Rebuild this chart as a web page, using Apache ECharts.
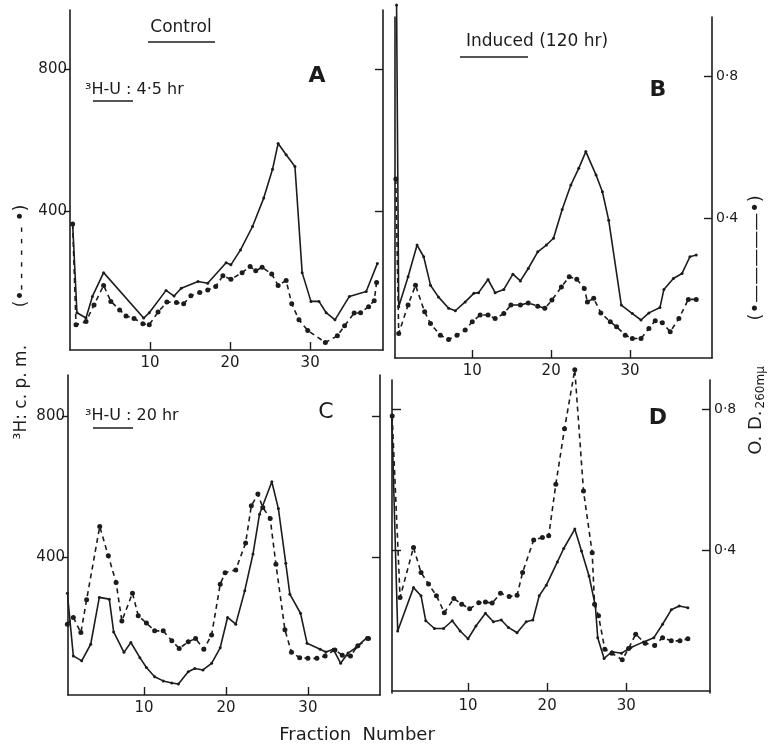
<!DOCTYPE html>
<html>
<head>
<meta charset="utf-8">
<script src="https://cdn.jsdelivr.net/npm/echarts@6/dist/echarts.min.js"></script>
<style>
  html, body { margin: 0; padding: 0; background: #fff; }
  #chart { width: 768px; height: 744px; }
</style>
</head>
<body>
<div id="chart"></div>
<script>
// fraction number / value pairs
// solid line = O.D. 260 (right axis), dashed line = 3H c.p.m. (left axis)
const aFracOD = [0.33, 0.87, 2.0, 2.8, 4.2, 9.2, 9.9, 12.0, 13.0, 13.9, 16.0, 17.2, 19.5, 20.1, 21.3, 22.8, 24.2, 25.3, 26.0, 27.0, 28.1, 29.0, 30.1, 31.1, 32.0, 33.1, 34.9, 37.0, 38.4];
const aOD = [0.363, 0.113, 0.098, 0.159, 0.226, 0.098, 0.113, 0.176, 0.160, 0.182, 0.201, 0.196, 0.254, 0.248, 0.290, 0.356, 0.436, 0.517, 0.590, 0.558, 0.525, 0.226, 0.145, 0.145, 0.113, 0.093, 0.159, 0.173, 0.252];
const aFracCpm = [0.33, 0.75, 2.0, 3.0, 4.2, 5.1, 6.2, 7.0, 8.0, 9.1, 9.9, 11.0, 12.1, 13.3, 14.2, 15.1, 16.2, 17.2, 18.2, 19.1, 20.1, 21.5, 22.5, 23.2, 24.0, 25.2, 26.0, 27.0, 27.7, 28.6, 29.7, 31.9, 33.4, 34.3, 35.5, 36.3, 37.3, 38.0, 38.3];
const aCpm = [363, 79, 88, 135, 190, 145, 121, 104, 97, 82, 79, 115, 143, 142, 138, 161, 170, 177, 187, 217, 207, 226, 243, 231, 241, 222, 190, 204, 138, 93, 63, 29, 48, 76, 112, 113, 130, 147, 198];

const bFracOD = [0.4, 0.67, 1.86, 3.0, 3.84, 4.7, 5.7, 7.0, 7.85, 9.1, 10.2, 10.8, 12.0, 12.9, 14.0, 15.15, 16.1, 17.1, 18.3, 19.4, 20.3, 21.4, 22.5, 23.5, 24.4, 25.7, 26.5, 27.3, 28.9, 30.3, 31.4, 32.4, 33.8, 34.3, 35.5, 36.6, 37.6, 38.4];
const bOD = [1.0, 0.150, 0.235, 0.324, 0.291, 0.211, 0.178, 0.146, 0.139, 0.164, 0.188, 0.190, 0.227, 0.190, 0.199, 0.242, 0.223, 0.258, 0.305, 0.324, 0.343, 0.424, 0.493, 0.540, 0.587, 0.521, 0.474, 0.394, 0.155, 0.131, 0.113, 0.133, 0.148, 0.199, 0.230, 0.244, 0.291, 0.296];
const bFracCpm = [0.3, 0.67, 1.86, 2.8, 3.96, 4.7, 5.95, 7.0, 8.06, 9.1, 10.0, 11.0, 12.0, 12.9, 14.0, 14.9, 16.1, 17.1, 18.3, 19.2, 20.1, 21.3, 22.3, 23.25, 24.2, 24.6, 25.4, 26.3, 27.5, 28.3, 29.4, 30.3, 31.4, 32.4, 33.2, 34.1, 35.1, 36.2, 37.4, 38.4];
const bCpm = [510, 75, 155, 211, 136, 103, 70, 58, 70, 85, 108, 127, 127, 117, 131, 155, 155, 161, 152, 146, 169, 206, 235, 228, 202, 164, 174, 133, 108, 94, 70, 61, 61, 89, 111, 105, 80, 117, 171, 171];

const cFracOD = [0.65, 1.38, 2.4, 3.5, 4.55, 5.77, 6.3, 7.56, 8.4, 9.5, 10.3, 11.3, 12.35, 13.4, 14.2, 15.4, 16.2, 17.2, 18.25, 19.3, 20.2, 21.2, 22.3, 23.3, 24.1, 25.6, 26.4, 27.3, 27.8, 29.1, 29.9, 31.5, 32.2, 33.1, 34.0, 34.9, 35.9, 37.2];
const cOD = [0.297, 0.119, 0.105, 0.152, 0.285, 0.280, 0.187, 0.129, 0.157, 0.114, 0.086, 0.060, 0.048, 0.042, 0.039, 0.074, 0.083, 0.079, 0.098, 0.142, 0.228, 0.209, 0.304, 0.408, 0.521, 0.613, 0.537, 0.382, 0.294, 0.240, 0.155, 0.138, 0.130, 0.138, 0.098, 0.127, 0.143, 0.171];
const cFracCpm = [0.65, 1.38, 2.3, 3.0, 4.6, 5.65, 6.6, 7.3, 8.6, 9.3, 10.3, 11.3, 12.35, 13.4, 14.3, 15.4, 16.3, 17.3, 18.25, 19.3, 19.9, 21.2, 22.4, 23.1, 23.9, 24.5, 25.4, 26.1, 27.2, 28.0, 29.0, 30.0, 31.1, 32.1, 33.3, 34.2, 35.2, 36.1, 37.4];
const cCpm = [209, 228, 185, 278, 486, 403, 327, 218, 297, 233, 212, 190, 190, 162, 140, 159, 168, 138, 178, 322, 355, 363, 439, 545, 578, 540, 509, 379, 193, 129, 114, 112, 112, 119, 136, 121, 119, 148, 168];

const dFracOD = [0.35, 1.1, 3.1, 4.05, 4.65, 5.75, 6.9, 8.0, 9.0, 10.0, 11.0, 12.2, 13.2, 14.2, 15.1, 16.2, 17.35, 18.2, 19.0, 19.9, 21.3, 22.1, 23.5, 24.35, 25.3, 26.1, 26.4, 27.2, 28.2, 29.4, 30.6, 32.2, 33.5, 34.6, 35.7, 36.7, 37.8];
const dOD = [0.78, 0.170, 0.293, 0.270, 0.199, 0.177, 0.177, 0.199, 0.170, 0.148, 0.184, 0.220, 0.196, 0.201, 0.180, 0.165, 0.196, 0.201, 0.270, 0.300, 0.366, 0.404, 0.459, 0.397, 0.326, 0.241, 0.151, 0.092, 0.111, 0.107, 0.123, 0.139, 0.151, 0.189, 0.230, 0.241, 0.236];
const dFracCpm = [0.4, 1.4, 3.1, 4.05, 5.0, 6.0, 7.0, 8.2, 9.2, 10.2, 11.35, 12.2, 13.05, 14.1, 15.2, 16.2, 16.9, 18.3, 19.4, 20.2, 21.1, 22.2, 23.5, 24.6, 25.7, 26.0, 26.5, 27.3, 28.2, 29.5, 30.3, 31.2, 32.4, 33.6, 34.6, 35.7, 36.8, 37.8];
const dCpm = [780, 265, 407, 336, 303, 270, 222, 262, 246, 233, 250, 252, 249, 277, 268, 271, 336, 428, 435, 440, 586, 744, 911, 567, 392, 246, 213, 118, 107, 88, 120, 161, 135, 129, 151, 142, 142, 148];

const fracTicks = [10, 20, 30];
const cpmTicks = [400, 800];
const odTicks = [0.4, 0.8];

const ink = "#1c1c1c";
const zip = (xs, ys) => xs.map((x, i) => [x, ys[i]]);

const grids = [
  { left: 70, right: 385, top: 10, bottom: 394 },  // A
  { left: 395, right: 56, top: 17, bottom: 386 },  // B
  { left: 68, right: 388, top: 375, bottom: 49 },  // C
  { left: 392, right: 58, top: 380, bottom: 51 },  // D
];
const xRange = [[0, 39.1], [0.2, 40.4], [0.73, 38.8], [0.38, 40.6]];
const yRange = [[8, 966], [6, 966], [8, 916], [-6, 882]];

function xAxisFor(i) {
  return {
    type: "value", gridIndex: i, min: xRange[i][0], max: xRange[i][1],
    splitLine: { show: false },
    axisLine: { lineStyle: { color: ink, width: 1.6 } },
    axisTick: { customValues: fracTicks, inside: true, length: 8, lineStyle: { color: ink, width: 1.4 } },
    axisLabel: { customValues: fracTicks, color: ink, fontSize: 15, margin: 6, fontFamily: "DejaVu Sans" },
  };
}

// kind: "label" = labelled with outward tick, "inner" = inner ticks only, "none" = bare line
function cpmAxis(i, kind) {
  return {
    type: "value", gridIndex: i, position: "left", min: yRange[i][0], max: yRange[i][1],
    splitLine: { show: false },
    axisLine: { show: true, onZero: false, lineStyle: { color: ink, width: 1.6 } },
    axisTick: { show: kind !== "none", customValues: cpmTicks, inside: kind === "inner", length: kind === "inner" ? 9 : 6, lineStyle: { color: ink, width: 1.4 } },
    axisLabel: { show: kind === "label", customValues: cpmTicks, color: ink, fontSize: 15, margin: 3, fontFamily: "DejaVu Sans" },
  };
}
function odAxis(i, kind) {
  return {
    type: "value", gridIndex: i, position: "right", min: yRange[i][0] / 1000, max: yRange[i][1] / 1000,
    splitLine: { show: false },
    axisLine: { show: true, onZero: false, lineStyle: { color: ink, width: 1.6 } },
    axisTick: { customValues: odTicks, inside: true, length: 8, lineStyle: { color: ink, width: 1.4 } },
    axisLabel: {
      show: kind === "label", customValues: odTicks, color: ink, fontSize: 14, margin: 4, fontFamily: "DejaVu Sans",
      formatter: (v) => String(v).replace(".", "·"),
    },
  };
}

const panels = [
  [aFracOD, aOD, aFracCpm, aCpm],
  [bFracOD, bOD, bFracCpm, bCpm],
  [cFracOD, cOD, cFracCpm, cCpm],
  [dFracOD, dOD, dFracCpm, dCpm],
];
const series = [];
panels.forEach((p, i) => {
  series.push({
    type: "line", xAxisIndex: i, yAxisIndex: i * 2 + 1, data: zip(p[0], p[1]), clip: false,
    symbol: "circle", symbolSize: 3, itemStyle: { color: ink },
    lineStyle: { color: ink, width: 1.6 }, animation: false,
  });
  series.push({
    type: "line", xAxisIndex: i, yAxisIndex: i * 2, data: zip(p[2], p[3]), clip: false,
    symbol: "circle", symbolSize: 5, itemStyle: { color: ink },
    lineStyle: { color: ink, width: 1.6, type: [5, 4] }, animation: false,
  });
});

const txt = (x, y, text, size, extra) => ({
  type: "text", x, y,
  style: Object.assign({ text, fill: ink, fontSize: size, fontFamily: "DejaVu Sans", align: "center", verticalAlign: "middle" }, extra || {}),
});
const rule = (x1, y1, x2, y2) => ({
  type: "line", shape: { x1, y1, x2, y2 }, style: { stroke: ink, lineWidth: 1.4 },
});

const option = {
  backgroundColor: "#fff",
  animation: false,
  grid: grids,
  xAxis: [0, 1, 2, 3].map(xAxisFor),
  yAxis: [
    cpmAxis(0, "label"), odAxis(0, "inner"),
    cpmAxis(1, "none"), odAxis(1, "label"),
    cpmAxis(2, "label"), odAxis(2, "inner"),
    cpmAxis(3, "inner"), odAxis(3, "label"),
  ],
  series,
  graphic: [
    txt(181, 28, "Control", 17),
    rule(148, 42, 215, 42),
    txt(317, 76, "A", 22, { fontWeight: "bold" }),
    txt(85, 90, "³H-U : 4·5 hr", 16, { align: "left" }),
    rule(93, 101, 133, 101),
    txt(537, 42, "Induced (120 hr)", 17),
    rule(460, 57, 528, 57),
    txt(658, 90, "B", 22, { fontWeight: "bold" }),
    txt(85, 416, "³H-U : 20 hr", 16, { align: "left" }),
    rule(93, 428, 133, 428),
    txt(326, 412, "C", 22),
    txt(658, 418, "D", 22, { fontWeight: "bold" }),
    txt(357, 735, "Fraction  Number", 18),
    {
      type: "text", x: 22, y: 322, rotation: Math.PI / 2,
      style: { text: "³H: c. p. m.       (•- - - - - - •)", fill: ink, fontSize: 17, fontFamily: "DejaVu Sans", align: "center", verticalAlign: "middle" },
    },
    {
      type: "text", x: 756, y: 325, rotation: Math.PI / 2,
      style: {
        text: "O. D.{s|260mµ}        (•—————•)", fill: ink, fontSize: 18, fontFamily: "DejaVu Sans",
        align: "center", verticalAlign: "middle",
        rich: { s: { fontSize: 12, fill: ink, fontFamily: "DejaVu Sans", padding: [9, 0, 0, 2] } },
      },
    },
  ],
};

const chart = echarts.init(document.getElementById("chart"));
chart.setOption(option);
</script>
</body>
</html>
